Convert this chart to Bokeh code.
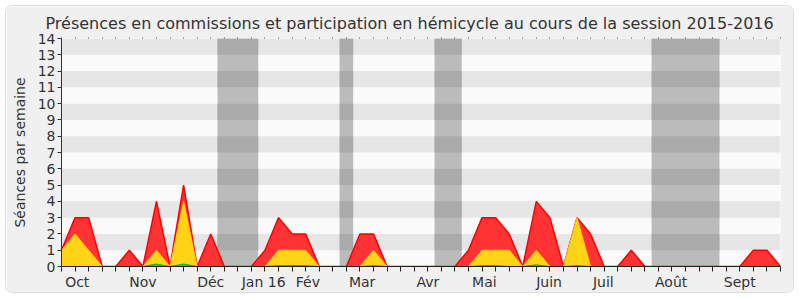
from bokeh.plotting import figure
from bokeh.models import FixedTicker, LinearAxis, Range1d, Title
from bokeh.embed import file_html
from bokeh.resources import INLINE

# ---- data (weekly values, session 2015-2016) ----
weeks = list(range(54))
total = [1, 3, 3, 0, 0, 1, 0, 4, 0, 5, 0, 2, 0, 0, 0, 1, 3, 2, 2, 0,
         0, 0, 2, 2, 0, 0, 0, 0, 0, 0, 1, 3, 3, 2, 0, 4, 3, 0, 3, 2,
         0, 0, 1, 0, 0, 0, 0, 0, 0, 0, 0, 1, 1, 0]
commission = [1, 2, 1, 0, 0, 0, 0, 1, 0, 4, 0, 0, 0, 0, 0, 0, 1, 1, 1, 0,
              0, 0, 0, 1, 0, 0, 0, 0, 0, 0, 0, 1, 1, 1, 0, 1, 0, 0, 3, 0,
              0, 0, 0, 0, 0, 0, 0, 0, 0, 0, 0, 0, 0, 0]
green = [0, 0, 0, 0, 0, 0, 0, 0.15, 0, 0.15, 0, 0, 0, 0, 0, 0, 0.05, 0.05, 0.05, 0,
         0, 0, 0, 0.05, 0, 0, 0, 0, 0, 0, 0, 0.05, 0.05, 0, 0, 0.1, 0, 0, 0.05, 0,
         0, 0, 0, 0, 0, 0, 0, 0, 0, 0, 0, 0, 0, 0]
holiday_start = [11.5, 20.5, 27.5, 43.5]
holiday_end = [14.5, 21.5, 29.5, 48.5]
month_pos = [1.16, 6.0, 11.0, 14.9, 18.16, 22.16, 27.0, 31.17, 35.94, 39.94, 44.94, 50.0]
month_names = ["Oct", "Nov", "Déc", "Jan 16", "Fév", "Mar", "Avr", "Mai", "Juin", "Juil", "Août", "Sept"]
y_ticks = list(range(15))

FONT = "DejaVu Sans"
TXT = "#333333"

p = figure(width=787, height=286, x_range=Range1d(0, 53), y_range=Range1d(0, 14),
           output_backend="svg", toolbar_location=None,
           min_border_left=55, min_border_right=13, min_border_top=31, min_border_bottom=25,
           background_fill_color="#fafafa", border_fill_color="#f0f0f0",
           x_axis_type=None, y_axis_type=None)
p.margin = (6, 7, 8, 6)
p.styles = {"border-radius": "6px", "box-shadow": "0 0 0 1px #dddddd", "overflow": "hidden"}
p.outline_line_color = None
p.xgrid.visible = False
p.ygrid.visible = False

# horizontal stripes
stripe_b = [b for b in y_ticks[1:-1:2]]
stripe_t = [b + 1 for b in stripe_b]
p.quad(left=0, right=53, bottom=stripe_b, top=stripe_t, fill_color="#e6e6e6", line_color=None)

# holiday bands
p.quad(left=holiday_start, right=holiday_end, bottom=0, top=14, fill_color="#bbbbbb", line_color=None)
bl, br, bb, bt = [], [], [], []
for s, e in zip(holiday_start, holiday_end):
    for b, t in zip(stripe_b, stripe_t):
        bl.append(s); br.append(e); bb.append(b); bt.append(t)
p.quad(left=bl, right=br, bottom=bb, top=bt, fill_color="#aaaaaa", line_color=None)

# areas
p.varea(x=weeks, y1=0, y2=total, fill_color="#ff3333")
p.line(weeks, total, line_color="#ff0000", line_width=1.5)
p.varea(x=weeks, y1=0, y2=commission, fill_color="#ffd316")
p.line(weeks, commission, line_color="#ffcc00", line_width=1)
p.varea(x=weeks, y1=0, y2=green, fill_color="#00dd00")
p.line(weeks, green, line_color="#00bb00", line_width=1)

# axes
yax = LinearAxis(ticker=FixedTicker(ticks=y_ticks))
yax.axis_label = "Séances par semaine"
yax.axis_label_text_font = FONT
yax.axis_label_text_font_size = "14px"
yax.axis_label_text_font_style = "normal"
yax.axis_label_text_color = TXT
yax.axis_label_standoff = 7
yax.major_label_text_font = FONT
yax.major_label_text_font_size = "14px"
yax.major_label_text_color = TXT
yax.major_label_standoff = 2
yax.axis_line_color = "#333333"
yax.major_tick_line_color = "#333333"
yax.major_tick_out = 4
yax.major_tick_in = 0
yax.minor_tick_line_color = None
p.add_layout(yax, "left")

xax = LinearAxis(ticker=FixedTicker(ticks=month_pos, minor_ticks=weeks))
xax.major_label_overrides = {pos: name for pos, name in zip(month_pos, month_names)}
xax.major_label_text_font = FONT
xax.major_label_text_font_size = "14px"
xax.major_label_text_color = TXT
xax.major_label_standoff = 1
xax.major_tick_line_color = None
xax.minor_tick_line_color = "#222222"
xax.minor_tick_out = 5
xax.minor_tick_in = 0
xax.axis_line_color = "#222222"
p.add_layout(xax, "below")

tax = LinearAxis(ticker=FixedTicker(ticks=[], minor_ticks=weeks))
tax.axis_line_color = None
tax.major_tick_line_color = None
tax.minor_tick_line_color = "#555555"
tax.minor_tick_out = 1
tax.minor_tick_in = 0
tax.major_label_text_font_size = "0px"
p.add_layout(tax, "above")

p.title = Title(text="Présences en commissions et participation en hémicycle au cours de la session 2015-2016",
                text_font=FONT, text_font_size="16px", text_font_style="normal",
                text_color=TXT, align="left", offset=-16)

open("out.html", "w").write(file_html(p, INLINE))
